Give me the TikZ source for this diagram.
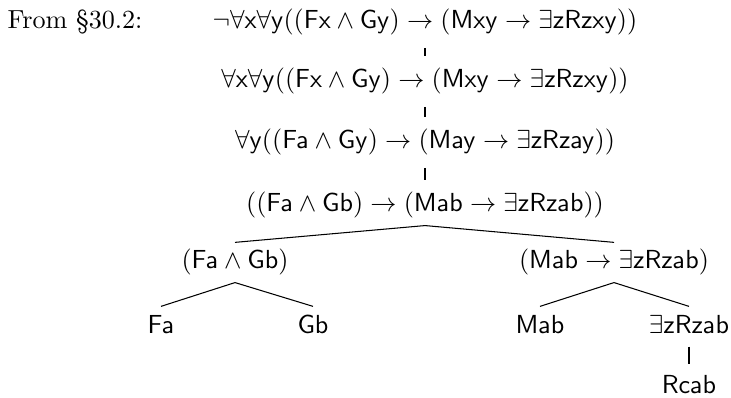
\documentclass[tikz,border=0pt]{standalone}
\begin{document}
\begin{tikzpicture}[x=0.383pt,y=-0.383pt,
  f/.style={inner xsep=1pt, inner ysep=2.5pt, text height=7.5pt, text depth=2.5pt, anchor=base},
  edge/.style={line width=0.4pt},
  vedge/.style={edge, shorten <=2pt, shorten >=2pt}]
\useasboundingbox (0,0) rectangle (731,398);
\node[anchor=base west, inner sep=0] (from) at (7,29) {From \S30.2:};
\node[f] (l1) at (425,29) {$\neg\forall\mathsf{x}\forall\mathsf{y}((\mathsf{Fx}\land\mathsf{Gy})\to(\mathsf{Mxy}\to\exists\mathsf{zRzxy}))$};
\node[f] (l2) at (425,88) {$\forall\mathsf{x}\forall\mathsf{y}((\mathsf{Fx}\land\mathsf{Gy})\to(\mathsf{Mxy}\to\exists\mathsf{zRzxy}))$};
\node[f] (l3) at (425,149) {$\forall\mathsf{y}((\mathsf{Fa}\land\mathsf{Gy})\to(\mathsf{May}\to\exists\mathsf{zRzay}))$};
\node[f] (l4) at (425,212) {$((\mathsf{Fa}\land\mathsf{Gb})\to(\mathsf{Mab}\to\exists\mathsf{zRzab}))$};
\node[f] (b1) at (235,269) {$(\mathsf{Fa}\land\mathsf{Gb})$};
\node[f] (b2) at (614,269) {$(\mathsf{Mab}\to\exists\mathsf{zRzab})$};
\node[f] (fa) at (161,333) {$\mathsf{Fa}$};
\node[f] (gb) at (313,333) {$\mathsf{Gb}$};
\node[f] (mab) at (540,333) {$\mathsf{Mab}$};
\node[f] (ez) at (689,333) {$\exists\mathsf{zRzab}$};
\node[f] (rc) at (689,393) {$\mathsf{Rcab}$};
\draw[vedge] (l1.south) -- (l2.north);
\draw[vedge] (l2.south) -- (l3.north);
\draw[vedge] (l3.south) -- (l4.north);
\draw[edge] (l4.south) -- (b1.north);
\draw[edge] (l4.south) -- (b2.north);
\draw[edge] (b1.south) -- (fa.north);
\draw[edge] (b1.south) -- (gb.north);
\draw[edge] (b2.south) -- (mab.north);
\draw[edge] (b2.south) -- (ez.north);
\draw[edge, shorten >=0.8pt] (ez.south) -- (rc.north);
\end{tikzpicture}
\end{document}
